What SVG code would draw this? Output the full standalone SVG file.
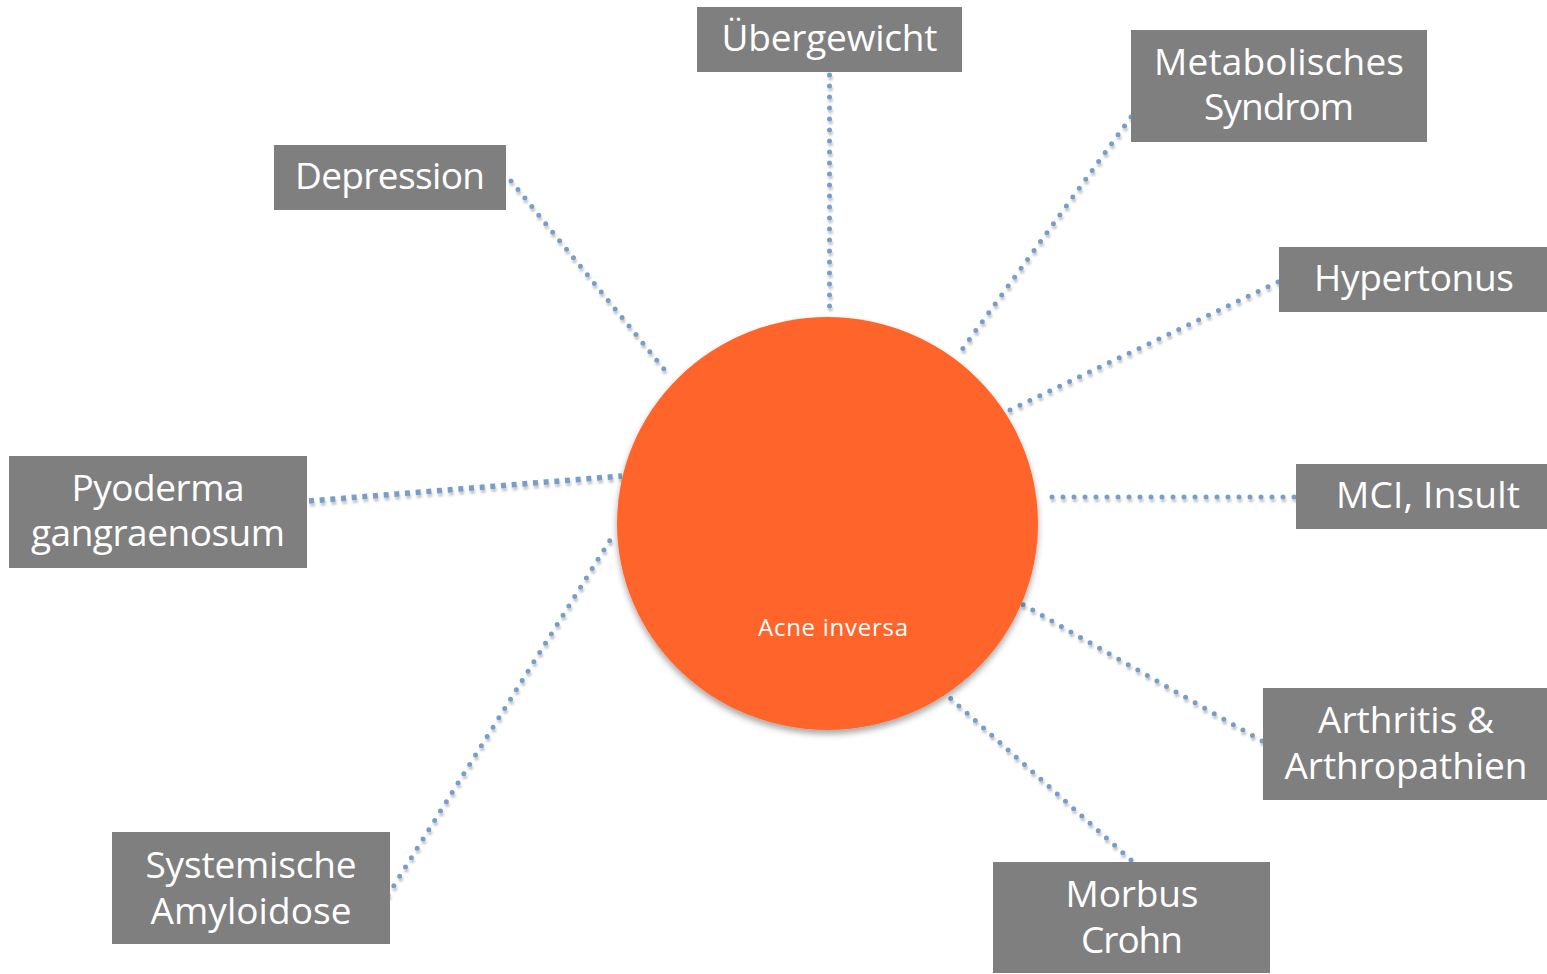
<svg xmlns="http://www.w3.org/2000/svg" width="1547" height="974" viewBox="0 0 1547 974">
<defs>
<filter id="shLine" x="-20%" y="-20%" width="140%" height="140%">
<feDropShadow dx="1" dy="3" stdDeviation="1.3" flood-color="#000" flood-opacity="0.22"/>
</filter>
<filter id="shCircle" x="-10%" y="-10%" width="120%" height="125%">
<feDropShadow dx="0" dy="4" stdDeviation="3" flood-color="#000" flood-opacity="0.35"/>
</filter>
</defs>
<style>
.box{fill:#7f7f7f}
.lbl{font-family:"Open Sans","Liberation Sans",sans-serif;font-size:37px;fill:#ffffff;text-anchor:middle}
.dot{fill:none;stroke:#779ecb;stroke-width:5;stroke-linecap:round;stroke-dasharray:0 11}
.sq{fill:none;stroke:#779ecb;stroke-width:5.5;stroke-dasharray:5 5.7}
.core{font-family:"Open Sans","Liberation Sans",sans-serif;font-size:24px;fill:#ffffff;text-anchor:middle}
</style>
<rect width="1547" height="974" fill="#ffffff"/>
<g id="connectors" filter="url(#shLine)">
<line class="dot" x1="829.5" y1="75" x2="829.5" y2="310"/>
<line class="dot" x1="1131" y1="117" x2="961" y2="351"/>
<line class="dot" x1="511" y1="181" x2="668" y2="374"/>
<line class="dot" x1="1278" y1="282" x2="1008" y2="411"/>
<line class="dot" x1="1294" y1="497" x2="1048" y2="497"/>
<line class="sq" x1="309" y1="501" x2="622" y2="476"/>
<line class="dot" x1="388" y1="895" x2="612" y2="537"/>
<line class="dot" x1="1262" y1="741" x2="1022" y2="604"/>
<line class="dot" x1="1131" y1="860" x2="949" y2="697"/>
</g>
<g id="acne-inversa">
<ellipse cx="827.5" cy="523.5" rx="210.5" ry="206.5" fill="#ff652b" filter="url(#shCircle)"/>
<text class="core" x="833" y="636" textLength="150">Acne inversa</text>
</g>
<g id="uebergewicht">
<rect class="box" x="697" y="7" width="265" height="65"/>
<text class="lbl" x="829.5" y="51" textLength="216">Übergewicht</text>
</g>
<g id="metabolisches-syndrom">
<rect class="box" x="1131" y="30" width="296" height="112"/>
<text class="lbl" x="1279" y="75" textLength="250">Metabolisches</text>
<text class="lbl" x="1279" y="120" textLength="150">Syndrom</text>
</g>
<g id="depression">
<rect class="box" x="274" y="145" width="232" height="65"/>
<text class="lbl" x="390" y="189" textLength="190">Depression</text>
</g>
<g id="hypertonus">
<rect class="box" x="1279" y="247" width="268" height="65"/>
<text class="lbl" x="1414" y="291" textLength="200">Hypertonus</text>
</g>
<g id="mci-insult">
<rect class="box" x="1296" y="464" width="251" height="65"/>
<text class="lbl" x="1428" y="508" textLength="184">MCI, Insult</text>
</g>
<g id="pyoderma-gangraenosum">
<rect class="box" x="9" y="456" width="298" height="112"/>
<text class="lbl" x="158" y="501" textLength="173">Pyoderma</text>
<text class="lbl" x="158" y="546" textLength="254">gangraenosum</text>
</g>
<g id="arthritis-arthropathien">
<rect class="box" x="1263" y="688" width="284" height="112"/>
<text class="lbl" x="1406" y="733" textLength="176">Arthritis &amp;</text>
<text class="lbl" x="1406" y="779" textLength="243">Arthropathien</text>
</g>
<g id="morbus-crohn">
<rect class="box" x="993" y="862" width="277" height="111"/>
<text class="lbl" x="1132" y="907" textLength="133">Morbus</text>
<text class="lbl" x="1132" y="953" textLength="102">Crohn</text>
</g>
<g id="systemische-amyloidose">
<rect class="box" x="112" y="832" width="278" height="112"/>
<text class="lbl" x="251" y="878" textLength="211">Systemische</text>
<text class="lbl" x="251" y="924" textLength="201">Amyloidose</text>
</g>
</svg>
